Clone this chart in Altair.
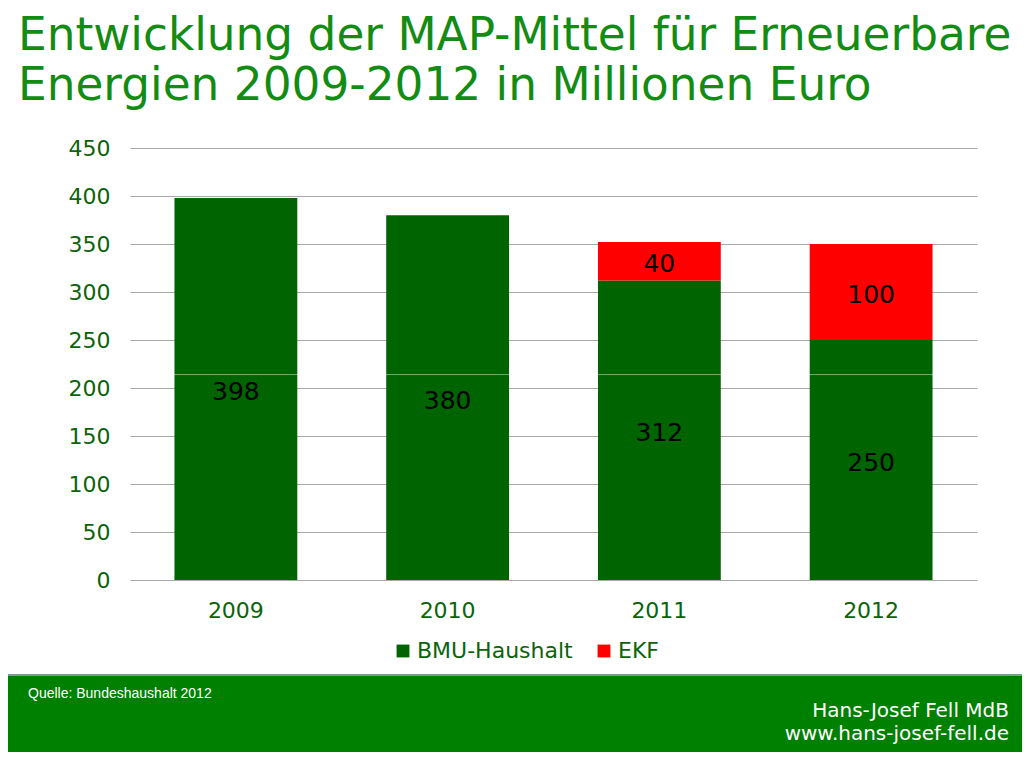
import altair as alt
import pandas as pd

years = ["2009", "2010", "2011", "2012"]
bmu = [398, 380, 312, 250]
ekf = [0, 0, 40, 100]
series = ["BMU-Haushalt", "EKF"]
colors = ["#006400", "#ff0000"]
title_lines = ["Entwicklung der MAP-Mittel für Erneuerbare", "Energien 2009-2012 in Millionen Euro"]
source_text = "Quelle: Bundeshaushalt 2012"
author_lines = ["Hans-Josef Fell MdB", "www.hans-josef-fell.de"]
y_ticks = [0, 50, 100, 150, 200, 250, 300, 350, 400, 450]
artifact_line = [214]

rows = []
for i, yr in enumerate(years):
    rows.append({"year": yr, "series": series[0], "value": bmu[i], "ord": 0})
    if ekf[i] > 0:
        rows.append({"year": yr, "series": series[1], "value": ekf[i], "ord": 1})
df = pd.DataFrame(rows)

FONT = "DejaVu Sans"
TITLE_GREEN = "#128c12"
AXIS_GREEN = "#0b640b"

base = alt.Chart(df)

x_enc = alt.X("year:N", sort=years, title=None,
              scale=alt.Scale(paddingInner=0.42, paddingOuter=0.21),
              axis=alt.Axis(labelAngle=0, labelFontSize=22, labelFont=FONT, labelColor=AXIS_GREEN,
                            ticks=False, domain=False, labelPadding=20))

bars = base.mark_bar().encode(
    x=x_enc,
    y=alt.Y("value:Q", stack="zero", title=None,
            scale=alt.Scale(domain=[0, 450], nice=False),
            axis=alt.Axis(values=y_ticks, labelFontSize=22, labelFont=FONT, labelColor=AXIS_GREEN,
                          ticks=False, domain=False, labelPadding=20,
                          gridColor="#a8a8a8", gridWidth=1)),
    color=alt.Color("series:N", scale=alt.Scale(domain=series, range=colors),
                    legend=alt.Legend(title=None, orient="none", legendX=262, legendY=492,
                                      direction="horizontal", symbolType="square", symbolSize=165,
                                      symbolStrokeWidth=0, labelFontSize=22, labelFont=FONT,
                                      labelColor=AXIS_GREEN, labelOffset=3, columnPadding=20)),
    order=alt.Order("ord:Q"),
)

labels = base.transform_stack(
    stack="value", groupby=["year"], as_=["y0", "y1"], sort=[alt.SortField("ord")]
).transform_calculate(mid="(datum.y0 + datum.y1) / 2").mark_text(
    fontSize=25, font=FONT, color="black", baseline="middle", dy=3
).encode(x=alt.X("year:N", sort=years), y=alt.Y("mid:Q"), text="value:Q")

artifact = alt.Chart(pd.DataFrame({"v": artifact_line})).mark_rule(
    color="white", opacity=0.45, strokeWidth=1
).encode(y="v:Q")

one = pd.DataFrame({"a": [0]})
footer = alt.Chart(one).mark_rect(color="#008000", stroke="#7a9e92", strokeWidth=2).encode(
    x=alt.value(-124), x2=alt.value(894), y=alt.value(527), y2=alt.value(607))

def text_layer(txt, x, y, size, color, align="left", font=FONT):
    return alt.Chart(pd.DataFrame({"t": [txt]})).mark_text(
        align=align, baseline="alphabetic", fontSize=size, font=font, color=color
    ).encode(x=alt.value(x), y=alt.value(y), text="t:N")

t1 = text_layer(title_lines[0], -112, -98, 45.4, TITLE_GREEN)
t2 = text_layer(title_lines[1], -112, -48, 45.4, TITLE_GREEN)
src = text_layer(source_text, -102, 550, 14, "white", font="Liberation Sans")
a1 = text_layer(author_lines[0], 879, 569, 20, "white", align="right")
a2 = text_layer(author_lines[1], 879, 592, 20, "white", align="right")

chart = alt.layer(bars, artifact, labels, footer, t1, t2, src, a1, a2).properties(
    width=847, height=432,
    autosize=alt.AutoSizeParams(type="none"),
    padding={"left": 122, "top": 140, "right": 45, "bottom": 172},
).configure_view(stroke=None)

chart.save("out.html", embed_options={"renderer": "svg", "actions": False})
